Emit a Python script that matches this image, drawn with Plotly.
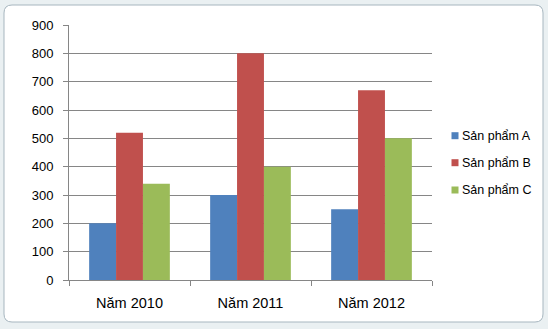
import plotly.graph_objects as go

categories = ["Năm 2010", "Năm 2011", "Năm 2012"]
series_names = ["Sản phẩm A", "Sản phẩm B", "Sản phẩm C"]
values_a = [200, 300, 250]
values_b = [520, 800, 670]
values_c = [340, 400, 500]
colors = ["#4F81BD", "#C0504D", "#9BBB59"]
y_ticks = [0, 100, 200, 300, 400, 500, 600, 700, 800, 900]

W, H = 548, 329
L, R, T, B = 69, 116, 25, 49
PW, PH = W - L - R, H - T - B

def px(x):
    return (x - L) / PW
def py(y):
    return (H - B - y) / PH

fig = go.Figure()
for name, vals, col in zip(series_names, [values_a, values_b, values_c], colors):
    fig.add_trace(go.Bar(name=name, x=categories, y=vals, showlegend=False,
                         marker=dict(color=col, line=dict(width=0))))

fig.update_layout(
    width=W, height=H,
    barmode="group", bargap=0.333, bargroupgap=0,
    margin=dict(l=L, r=R, t=T, b=B, autoexpand=False),
    paper_bgcolor="#EAF0F2", plot_bgcolor="white",
    font=dict(family="Liberation Sans, Arial, sans-serif", size=12, color="black"),
    showlegend=False,
    xaxis=dict(showline=True, linecolor="#868686", linewidth=1, ticks="outside",
               tickson="boundaries", ticklen=5, tickcolor="#868686",
               tickfont=dict(size=14.5), ticklabelstandoff=10,
               showgrid=False, fixedrange=True),
    yaxis=dict(range=[0, 900], tickvals=y_ticks, showline=True, linecolor="#868686",
               linewidth=1, ticks="outside", ticklen=5, tickcolor="#868686",
               showgrid=True, gridcolor="#868686", gridwidth=1, zeroline=False,
               tickfont=dict(size=13), ticklabelstandoff=7, fixedrange=True),
)

# legend drawn as squares + text
legend_rows = [135.7, 162.7, 190.0]
for name, col, yy in zip(series_names, colors, legend_rows):
    fig.add_shape(type="rect", xref="paper", yref="paper",
                  x0=px(451.5), x1=px(458.5), y0=py(yy + 3.5), y1=py(yy - 3.5),
                  fillcolor=col, line=dict(width=0))
    fig.add_annotation(xref="paper", yref="paper", x=px(460), y=py(yy),
                       xanchor="left", yanchor="middle", text=name, showarrow=False,
                       font=dict(size=12.5, color="black"))

# chart area (rounded white rectangle)
x0, x1, y0, y1, r = 4, 543, 5, 322, 8
path = (f"M {px(x0+r)},{py(y0)} L {px(x1-r)},{py(y0)} Q {px(x1)},{py(y0)} {px(x1)},{py(y0+r)} "
        f"L {px(x1)},{py(y1-r)} Q {px(x1)},{py(y1)} {px(x1-r)},{py(y1)} "
        f"L {px(x0+r)},{py(y1)} Q {px(x0)},{py(y1)} {px(x0)},{py(y1-r)} "
        f"L {px(x0)},{py(y0+r)} Q {px(x0)},{py(y0)} {px(x0+r)},{py(y0)} Z")
fig.add_shape(type="path", xref="paper", yref="paper", path=path,
              fillcolor="white", line=dict(color="#A7B6BF", width=1), layer="below")

fig.write_html("out.html")
